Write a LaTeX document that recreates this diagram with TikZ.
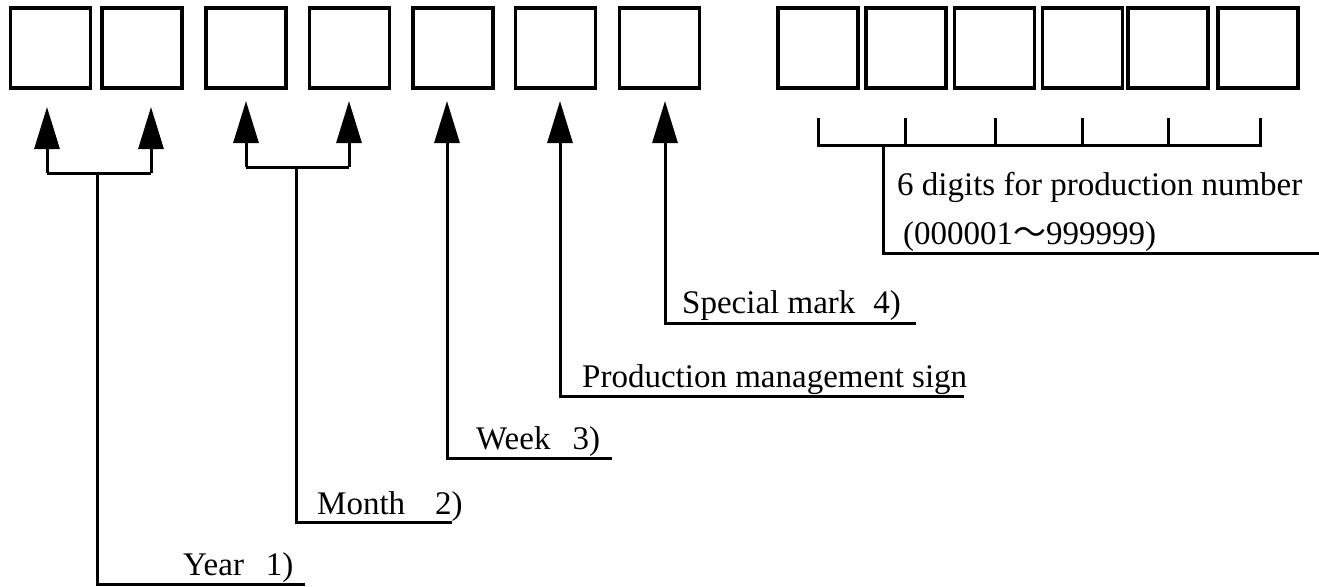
\documentclass[tikz,border=0pt]{standalone}
\usepackage{fontspec}
\setmainfont{Liberation Serif}
\newfontfamily\cjkfont{Noto Sans CJK JP}
\usetikzlibrary{arrows.meta}
\tikzset{
  cell/.style={draw, line width=3.2pt, minimum width=80pt, minimum height=80pt, inner sep=0pt},
  ln/.style={line width=3pt},
  arr/.style={ln, -{Triangle[length=42pt,width=25pt]}},
  lbl/.style={anchor=base west, inner sep=0pt, font=\fontsize{33}{40}\selectfont},
}
\begin{document}
\begin{tikzpicture}[x=1pt,y=-1pt]
\useasboundingbox (0,0) rectangle (1319,586);
% boxes
\node[cell] (b1) at (50.5,48) {};
\node[cell] (b2) at (142,48) {};
\node[cell] (b3) at (246,48) {};
\node[cell] (b4) at (349.5,48) {};
\node[cell] (b5) at (453,48) {};
\node[cell] (b6) at (555.5,48) {};
\node[cell] (b7) at (659.5,48) {};
\node[cell] (c1) at (818,48) {};
\node[cell] (c2) at (906,48) {};
\node[cell] (c3) at (994.5,48) {};
\node[cell] (c4) at (1082.5,48) {};
\node[cell] (c5) at (1168,48) {};
\node[cell] (c6) at (1258,48) {};
% labels
\node[lbl] (tyear) at (183,575) {Year\hspace{22pt}1)};
\node[lbl] (tmonth) at (317,514) {Month\hspace{30pt}2)};
\node[lbl] (tweek) at (476,449) {Week\hspace{22pt}3)};
\node[lbl] (tpms) at (582,387) {Production management sign};
\node[lbl] (tspec) at (682,313) {Special mark\hspace{18pt}4)};
\node[lbl] (tdig) at (897,195) {6 digits for production number};
\node[lbl] (trng) at (903,244) {(000001{\cjkfont ～}999999)};
% coordinates
\coordinate (ya) at (47,107);  \coordinate (yab) at (47,173);
\coordinate (yb) at (151,107); \coordinate (ybb) at (151,173);
\coordinate (yj) at (97,173);  \coordinate (ye) at (305,584);
\coordinate (ma) at (246,101); \coordinate (mab) at (246,167);
\coordinate (mb) at (349,101); \coordinate (mbb) at (349,167);
\coordinate (mj) at (296,167); \coordinate (me) at (452,522);
\coordinate (wa) at (447,101); \coordinate (we) at (612,458);
\coordinate (pa) at (560,101); \coordinate (pe) at (964,396);
\coordinate (sa) at (665,101); \coordinate (se) at (916,323);
% year
\draw[ln] (yab) -- (ybb);
\draw[arr] (yab) -- (ya);
\draw[arr] (ybb) -- (yb);
\draw[ln] (ye) -| (yj);
% month
\draw[ln] (mab) -- (mbb);
\draw[arr] (mab) -- (ma);
\draw[arr] (mbb) -- (mb);
\draw[ln] (me) -| (mj);
% week, production management, special mark
\draw[arr] (we) -| (wa);
\draw[arr] (pe) -| (pa);
\draw[arr] (se) -| (sa);
% production number bracket
\coordinate (k1) at (818,118); \coordinate (k1b) at (818,145);
\coordinate (k2) at (905,118); \coordinate (k2b) at (905,145);
\coordinate (k3) at (995,118); \coordinate (k3b) at (995,145);
\coordinate (k4) at (1082,118); \coordinate (k4b) at (1082,145);
\coordinate (k5) at (1168,118); \coordinate (k5b) at (1168,145);
\coordinate (k6) at (1260,118); \coordinate (k6b) at (1260,145);
\coordinate (kj) at (883,145); \coordinate (ke) at (1319,253);
\draw[ln] (k1) -- (k1b) -- (k6b) -- (k6);
\draw[ln] (k2) -- (k2b);
\draw[ln] (k3) -- (k3b);
\draw[ln] (k4) -- (k4b);
\draw[ln] (k5) -- (k5b);
\draw[ln] (kj) |- (ke);
\end{tikzpicture}
\end{document}
